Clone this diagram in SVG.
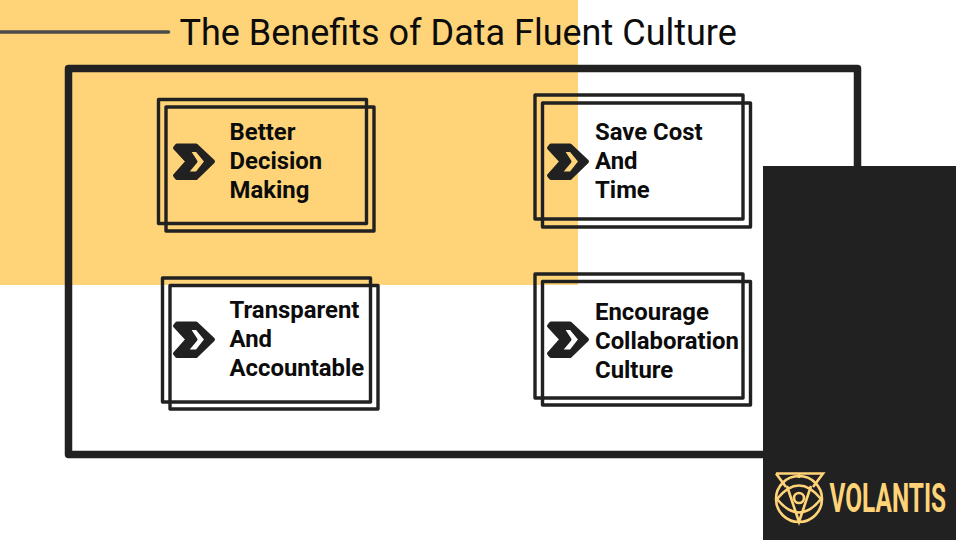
<svg xmlns="http://www.w3.org/2000/svg" width="960" height="540" viewBox="0 0 960 540">
<defs>
<style>
.box{fill:none;stroke:#212121;stroke-width:3.4;stroke-linejoin:round}
.lbl{font-family:Roboto,"Liberation Sans",sans-serif;font-weight:700;font-size:23.9px;fill:#0c0c0c}
.gold{fill:none;stroke:#ffd479;stroke-width:2.6}
</style>
<path id="chev" fill-rule="evenodd" fill="#212121" stroke="#212121" stroke-width="4" stroke-linejoin="round" d="M177 145.500H196L213 161.500L196 178H177L175 175.500L187.500 161.500L175 148ZM188 150L197 150L206.500 161.500L197 173.500L185.500 173.500L195.500 161.500Z"/>
</defs>
<rect width="960" height="540" fill="#fff"/>
<rect width="578" height="285" fill="#ffd479"/>
<path d="M0 32H168.500" stroke="#4a4a4a" stroke-width="3.500" stroke-linecap="round"/>
<text id="title" x="179.500" y="44.500" font-family="Roboto,'Liberation Sans',sans-serif" font-size="36" fill="#0c0c0c">The Benefits of Data Fluent Culture</text>
<g id="frame"><rect x="68.500" y="68.500" width="789" height="386" fill="none" stroke="#212121" stroke-width="7.500" stroke-linejoin="round"/></g>
<rect id="panel" x="763" y="166" width="193" height="374" fill="#212121"/>
<g id="card1"><rect class="box" x="158.500" y="99.500" width="208" height="124"/><rect class="box" x="166" y="107" width="208" height="124"/><use href="#chev"/>
<text class="lbl" x="229.500" y="140">Better</text><text class="lbl" x="229.500" y="169">Decision</text><text class="lbl" x="229.500" y="198">Making</text></g>
<g id="card2"><rect class="box" x="535" y="95" width="208" height="124"/><rect class="box" x="542.500" y="103" width="208" height="124"/><use href="#chev" x="374"/>
<text class="lbl" x="595" y="140">Save Cost</text><text class="lbl" x="595" y="169">And</text><text class="lbl" x="595" y="198">Time</text></g>
<g id="card3"><rect class="box" x="162.500" y="278" width="208" height="124"/><rect class="box" x="170" y="285.500" width="208" height="123.500"/><use href="#chev" y="178"/>
<text class="lbl" x="229.500" y="318">Transparent</text><text class="lbl" x="229.500" y="347">And</text><text class="lbl" x="229.500" y="376">Accountable</text></g>
<g id="card4"><rect class="box" x="535" y="274" width="208" height="124"/><rect class="box" x="542.500" y="281.500" width="208" height="123.500"/><use href="#chev" x="374" y="178"/>
<text class="lbl" x="595" y="320">Encourage</text><text class="lbl" x="595" y="349">Collaboration</text><text class="lbl" x="595" y="378">Culture</text></g>
<g id="logo">
<circle class="gold" cx="799" cy="499" r="23"/>
<path class="gold" d="M776 473.500H823L813 487M776 473.500L786 487M799 473.500V478"/>
<path class="gold" d="M777 499Q799 472 821 499Q799 526 777 499ZM787 486L799 522L811 486"/>
<circle class="gold" cx="799" cy="498" r="5"/>
<text transform="translate(829.500 512) scale(0.61 1)" font-family="Roboto,sans-serif" font-size="40" font-weight="700" fill="#ffd479">VOLANTIS</text>
</g>
</svg>
